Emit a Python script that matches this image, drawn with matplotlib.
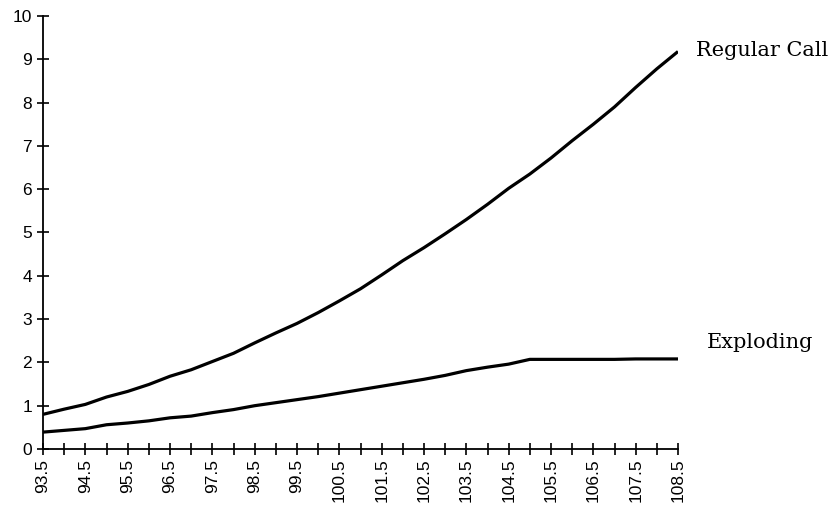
import numpy as np
import matplotlib
matplotlib.use("Agg")
import matplotlib.pyplot as plt

# strike prices (every 0.5)
strikes = [93.5, 94.0, 94.5, 95.0, 95.5, 96.0, 96.5, 97.0, 97.5, 98.0, 98.5,
           99.0, 99.5, 100.0, 100.5, 101.0, 101.5, 102.0, 102.5, 103.0, 103.5,
           104.0, 104.5, 105.0, 105.5, 106.0, 106.5, 107.0, 107.5, 108.0, 108.5]

regular_call = [0.80, 0.92, 1.03, 1.20, 1.33, 1.49, 1.68, 1.83, 2.02, 2.21, 2.45,
                2.68, 2.90, 3.15, 3.42, 3.70, 4.02, 4.35, 4.65, 4.97, 5.30,
                5.65, 6.02, 6.35, 6.72, 7.12, 7.50, 7.90, 8.35, 8.78, 9.18]

exploding = [0.39, 0.43, 0.47, 0.56, 0.60, 0.65, 0.72, 0.76, 0.84, 0.91, 1.00,
             1.07, 1.14, 1.21, 1.29, 1.37, 1.45, 1.53, 1.61, 1.70, 1.81,
             1.89, 1.96, 2.07, 2.07, 2.07, 2.07, 2.07, 2.08, 2.08, 2.08]

x_labels = [93.5, 94.5, 95.5, 96.5, 97.5, 98.5, 99.5, 100.5, 101.5, 102.5,
            103.5, 104.5, 105.5, 106.5, 107.5, 108.5]
y_ticks = [0, 1, 2, 3, 4, 5, 6, 7, 8, 9, 10]

fig = plt.figure(figsize=(8.33, 5.05), dpi=100)
ax = fig.add_axes([43 / 833, 1 - 449 / 505, (678 - 43) / 833, (449 - 16) / 505])

ax.plot(strikes, regular_call, color="black", lw=2.3, solid_capstyle="butt")
ax.plot(strikes, exploding, color="black", lw=2.3, solid_capstyle="butt")

ax.set_xlim(strikes[0], strikes[-1])
ax.set_ylim(0, 10)

ax.spines["top"].set_visible(False)
ax.spines["right"].set_visible(False)
ax.spines["left"].set_linewidth(1.3)
ax.spines["bottom"].set_linewidth(1.3)

ax.set_xticks(strikes, minor=True)
ax.set_xticks(x_labels)
ax.set_xticklabels([f"{v:.1f}" for v in x_labels], rotation=90,
                   fontsize=12.5, family="Liberation Sans")
ax.set_yticks(y_ticks)
ax.set_yticklabels([str(v) for v in y_ticks], fontsize=12.5,
                   family="Liberation Sans")
ax.tick_params(axis="both", which="both", direction="inout", length=8,
               width=1.2, color="black")
ax.tick_params(axis="x", pad=3)
ax.tick_params(axis="y", pad=4)

ax.annotate("Regular Call", xy=(strikes[-1], regular_call[-1]),
            xytext=(13, 1), textcoords="offset points", va="center",
            ha="left", fontsize=15, family="DejaVu Serif", annotation_clip=False)
ax.annotate("Exploding", xy=(strikes[-1], exploding[-1]),
            xytext=(21, 12), textcoords="offset points", va="center",
            ha="left", fontsize=15, family="DejaVu Serif", annotation_clip=False)

fig.savefig("out.png", dpi=100)
